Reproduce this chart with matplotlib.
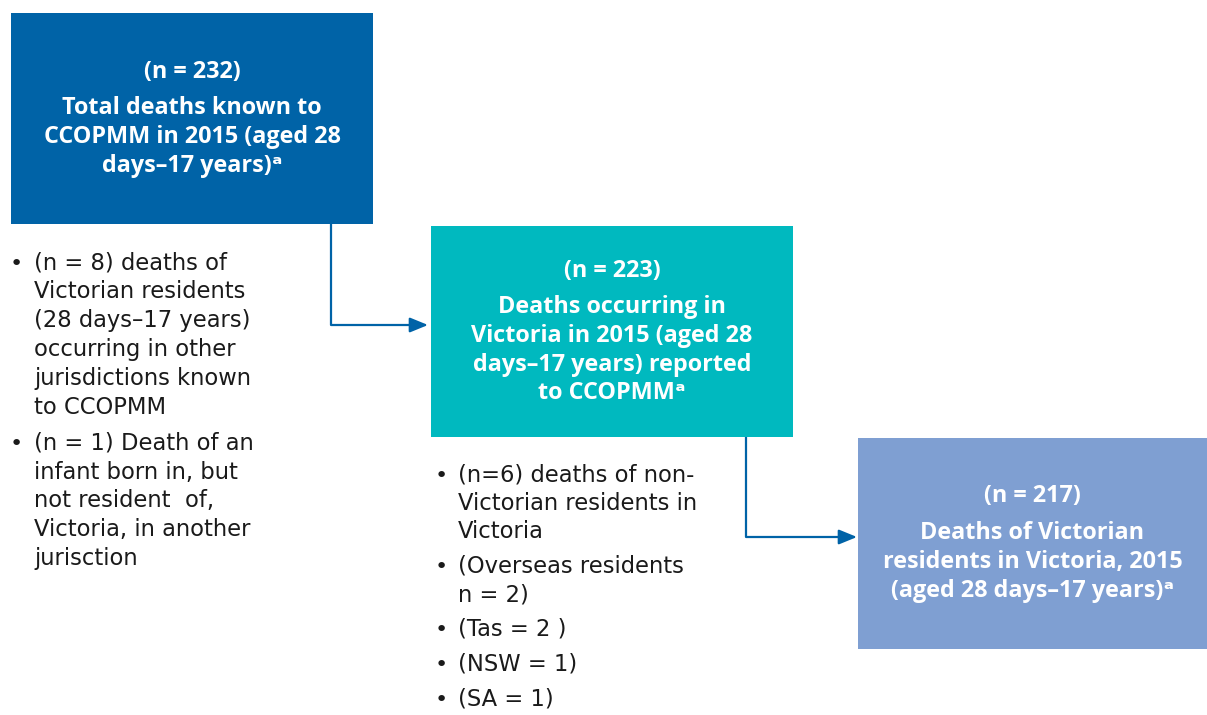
import matplotlib
matplotlib.use("Agg")
import matplotlib.pyplot as plt
from matplotlib.patches import Rectangle

plt.rcParams['font.family'] = ['Open Sans', 'DejaVu Sans']

# ---- data (text content) ----
box_counts = ["(n = 232)", "(n = 223)", "(n = 217)"]
box_titles = [
    ["Total deaths known to", "CCOPMM in 2015 (aged 28", "days\u201317 years)\u1d43"],
    ["Deaths occurring in", "Victoria in 2015 (aged 28", "days\u201317 years) reported", "to CCOPMM\u1d43"],
    ["Deaths of Victorian", "residents in Victoria, 2015", "(aged 28 days\u201317 years)\u1d43"],
]
box_colors = ["#0063A7", "#00B9BF", "#7F9FD2"]

left_bullets = [
    ["(n = 8) deaths of", "Victorian residents", "(28 days\u201317 years)", "occurring in other",
     "jurisdictions known", "to CCOPMM"],
    ["(n = 1) Death of an", "infant born in, but", "not resident  of,", "Victoria, in another",
     "jurisction"],
]
mid_bullets = [
    ["(n=6) deaths of non-", "Victorian residents in", "Victoria"],
    ["(Overseas residents", "n = 2)"],
    ["(Tas = 2 )"],
    ["(NSW = 1)"],
    ["(SA = 1)"],
]

# ---- layout ----
W, H = 1207, 715
fig = plt.figure(figsize=(W / 100, H / 100), dpi=100)
ax = fig.add_axes([0, 0, 1, 1])
ax.set_xlim(0, W)
ax.set_ylim(H, 0)
ax.axis('off')

boxes = [(11, 13, 362, 211), (431, 226, 362, 211), (858, 438, 349, 211)]
count_y = [72, 271, 496]
title_y0 = [108, 307, 533]
lh = 28.8
fs_b = 16.8
fs_r = 16.3

for (x, y, w, h), col, cnt, title, cy, ty in zip(boxes, box_colors, box_counts, box_titles, count_y, title_y0):
    ax.add_patch(Rectangle((x, y), w, h, facecolor=col, edgecolor='none'))
    cx = x + w / 2
    ax.text(cx, cy, cnt, ha='center', va='center', color='white', fontsize=fs_b, fontweight='bold')
    for i, line in enumerate(title):
        ax.text(cx, ty + i * lh, line, ha='center', va='center', color='white',
                fontsize=fs_b, fontweight='bold')

arrow_col = "#0063A7"
def connector(x0, y0, y1, x1):
    ax.plot([x0, x0, x1 - 14], [y0, y1, y1], color=arrow_col, lw=1.6, solid_capstyle='butt')
    ax.annotate('', xy=(x1, y1), xytext=(x1 - 16, y1),
                arrowprops=dict(arrowstyle='-|>,head_length=1.1,head_width=0.45',
                                color=arrow_col, lw=1.6, shrinkA=0, shrinkB=0))

connector(331, 224, 325, 428)
connector(746, 437, 537, 857)

def bullets(groups, bx, tx, y0, gap, step):
    y = y0
    for g in groups:
        ax.text(bx, y + 1, "\u2022", ha='center', va='center', fontsize=16, color='#1a1a1a',
                family='DejaVu Sans')
        for line in g:
            ax.text(tx, y, line, ha='left', va='center', fontsize=fs_r, color='#1a1a1a',
                    family='DejaVu Sans')
            y += step
        y += gap

bullets(left_bullets, 16, 34, 263, 7.5, lh)
bullets(mid_bullets, 441, 458, 475, 6.5, 28.3)

fig.savefig("out.png", dpi=100)
